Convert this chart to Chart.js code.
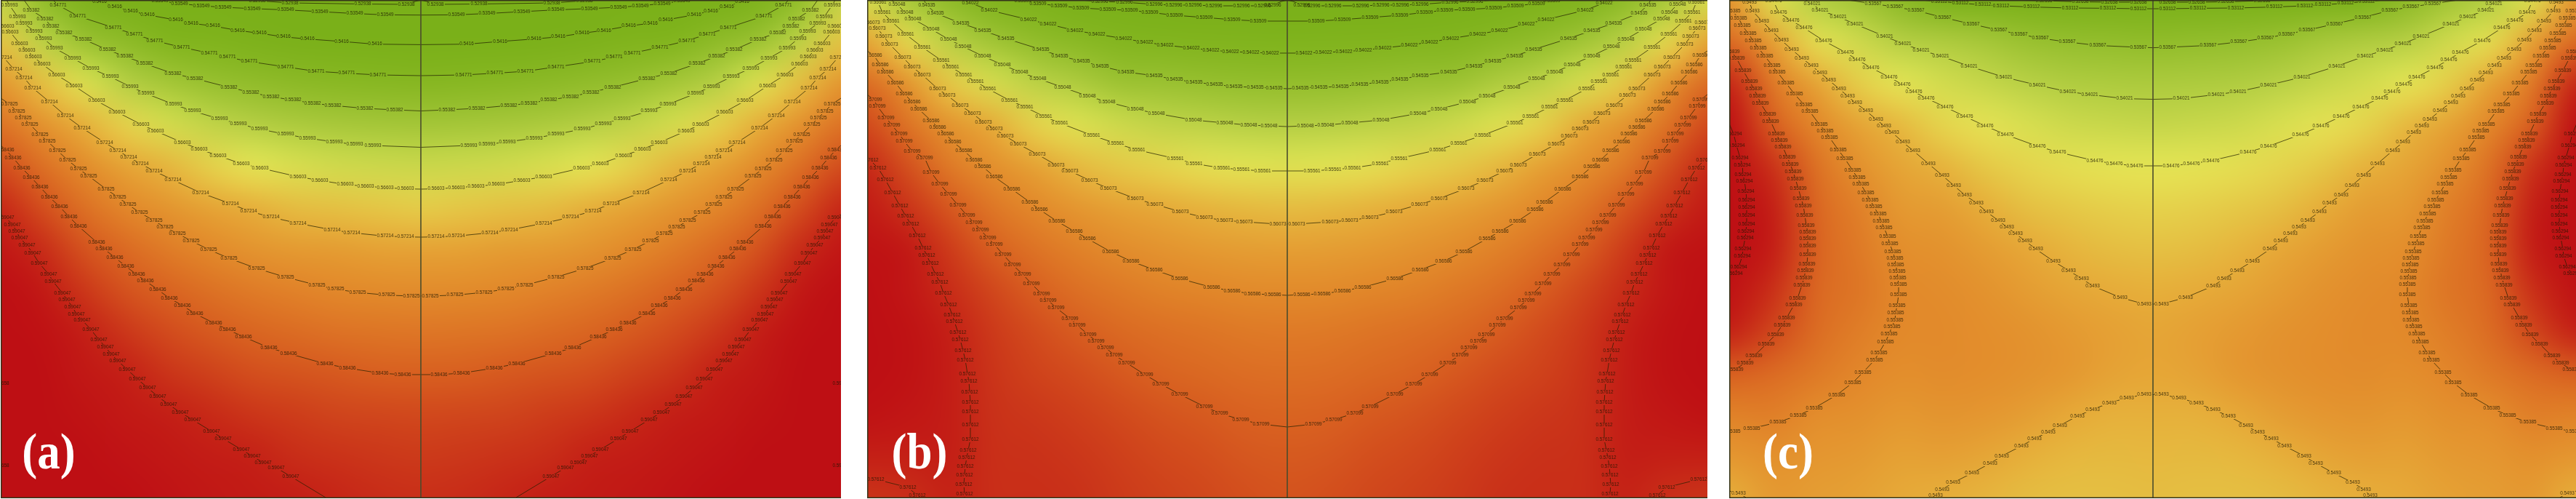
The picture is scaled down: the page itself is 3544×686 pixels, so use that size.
<!DOCTYPE html>
<html>
<head>
<meta charset="utf-8">
<script src="https://cdn.jsdelivr.net/npm/chart.js@4"></script>
<style>
html, body { margin: 0; padding: 0; background: #fff; overflow: hidden; }
canvas { position: absolute; top: 0; }
#panelA { left: 1px; }
#panelB { left: 1193px; }
#panelC { left: 2379px; }
</style>
</head>
<body>
<canvas id="panelA" width="1156" height="685"></canvas>
<canvas id="panelB" width="1156" height="685"></canvas>
<canvas id="panelC" width="1166" height="685"></canvas>
<script>
// contours: [distance from centre line, depth], left half, mirrored when drawn
const a52938 = [[0,0],[8,2],[20,6],[80,5.5],[180,4],[225,1]];
const a53549 = [[0,20.7],[49,20.4],[91,18.6],[139,16],[186,13.6],[232,11.8],[272,10],[302,7.9],[332,5],[359,1.4]];
const a5416 = [[0,61.4],[63,60.7],[109,57],[156,53.6],[189,50.7],[222,45.7],[252,41.8],[286,35.7],[316,32],[337,27.5],[376,20.4],[399,15],[421,9.6],[442,2]];
const a54771 = [[0,104],[59,103],[102,100.7],[144,98],[186,92],[236,84.6],[266,78.6],[291,73],[329,65],[366,56],[394,47],[423,38],[472,22],[499,7],[506,0]];
const a55382 = [[0,152.5],[36,151],[77,149],[121,145],[149,142],[176,137.5],[206,133],[234,127],[264,120],[311,108],[341,101],[380,87.5],[407,77.5],[431,68.6],[464,54],[491,45],[509,36],[517,26],[536,14],[546,0]];
const a55993 = [[0,202.5],[66,200],[91,198.6],[119,195],[156,190],[186,184.6],[222,177.5],[251,170],[277,163.6],[314,152.5],[340,143.6],[378,128.6],[400,119],[427,105.7],[454,94],[479,80],[504,66],[519,53],[532,43],[546,32],[555,23],[566,7],[570,0]];
const a56603 = [[0,260],[21,259.6],[49,258],[76,256],[104,253.6],[139,248],[169,243],[221,231],[247,225],[279,214],[305,205],[328,196],[365,180],[385,171],[418,154],[446,138.6],[477,118],[501,103],[521,88],[533,78],[542,69],[552,60],[565,44],[571,36],[578,33]];
const a57214 = [[0,326],[21,325.7],[49,324.6],[95,320],[122,316],[169,307],[206,298.6],[237,290],[262,280],[303,265],[341,247.5],[367,235],[386,225],[402,216],[417,207],[435,196],[466,176],[489,159],[511,140],[534,121],[546,107],[560,95],[574,79],[578,77]];
const a57825 = [[0,407],[13,407],[47,405.7],[87,402],[117,397.5],[143,392],[186,381],[226,369],[264,355],[292,343],[316,331],[335,321],[352,312.5],[367,303.6],[387,292],[403,281],[417,271],[433,260],[457,242],[471,232],[486,220],[500,207],[514,194],[524,185],[538,171],[547,162],[556,153],[566,143],[578,135]];
const a58436 = [[0,515],[25,515],[56,513],[101,506],[132,500],[182,486],[209,478],[244,463],[266,453],[285,444],[311,431],[328,420],[346,410],[362,398],[379,386],[391,377.5],[406,366],[421,354],[436,342],[446,333],[471,311],[484,298],[497,284],[511,271],[524,257],[536,244],[549,231],[561,217],[571,206],[578,200]];
const a59047 = [[131,684],[179,655],[199,643],[217,636],[232,627],[247,618],[272,603],[288,593],[314,577],[331,567],[347,556],[362,545],[376,533],[390,521],[404,508],[417,496],[426,487],[434,477],[443,467],[454,453],[466,440],[474,432],[479,422],[487,412],[493,403],[506,387],[512,377],[525,362],[534,348],[542,337],[552,327],[556,318],[562,309],[571,299],[578,295]];

const b52996 = [[0,0],[8,2],[20,7],[34,8],[63,8],[101,8],[129,7],[156,7],[183,6],[224,3],[258,2],[285,0]];
const b53509 = [[0,29],[40,29],[76,27],[114,24],[155,21],[189,17],[217,14],[247,13],[284,11],[314,8],[343,5],[364,1]];
const b54022 = [[0,73],[23,73],[50,72],[78,71],[105,69],[132,66],[168,62],[196,58],[225,53],[262,47],[292,42],[329,33],[356,27],[410,14],[436,4],[450,0]];
const b54535 = [[0,122],[18,121],[44,120],[73,119],[100,116],[128,113],[155,109],[183,104],[222,99],[257,91],[283,84],[313,77],[339,68],[387,53],[419,42],[449,32],[484,18],[496,7],[500,0]];
const b55048 = [[0,174],[25,173],[53,172],[86,169],[129,165],[180,156],[209,150],[248,140],[275,132],[309,120],[343,108],[368,99],[392,89],[419,77],[446,64],[466,54],[490,40],[515,26],[526,17],[537,6],[545,0]];
const b55561 = [[0,235],[34,235],[63,233],[90,231],[128,225],[154,218],[207,206],[236,197],[269,186],[313,169],[335,160],[361,147],[382,138],[412,122],[429,112],[445,103],[463,92],[476,83],[502,65],[525,47],[545,29],[557,17],[563,3],[568,0]];
const b56073 = [[0,308],[13,308],[59,305],[86,303],[114,299],[147,291],[182,281],[209,273],[246,259],[272,248],[299,235],[318,227],[344,212],[370,198],[388,187],[403,177],[418,168],[433,156],[450,145],[468,131],[481,122],[502,103],[516,92],[529,79],[547,61],[555,50],[564,39],[572,31],[578,28]];
const b56586 = [[0,406],[20,405],[48,404],[76,400],[104,395],[148,383],[183,371],[215,359],[243,346],[275,328],[293,318],[317,304],[341,288],[354,278],[379,260],[403,243],[419,229],[431,220],[445,207],[460,195],[470,184],[481,175],[490,166],[507,150],[516,140],[527,129],[539,114],[553,99],[560,89],[569,76],[578,70]];
const b57099 = [[0,587],[36,583],[64,577],[93,568],[114,559],[148,542],[174,528],[196,515],[221,499],[238,488],[250,478],[263,469],[274,460],[289,447],[299,438],[318,423],[329,413],[338,404],[352,390],[364,377],[378,364],[391,350],[403,336],[412,327],[422,316],[431,306],[441,296],[453,282],[466,267],[478,253],[490,237],[499,217],[516,208],[527,194],[534,184],[544,172],[552,162],[564,146],[569,137],[578,130]];
const b57612 = [[444,684],[444,679],[445,666],[444,653],[443,641],[441,629],[439,619],[436,604],[436,584],[436,566],[436,553],[437,539],[438,524],[440,514],[443,495],[446,482],[450,467],[453,457],[458,442],[461,433],[466,419],[473,403],[478,388],[484,377],[491,362],[496,351],[501,341],[509,324],[518,308],[525,297],[533,283],[543,265],[553,247],[563,231],[574,220],[578,218]];
const b57612low = [[504,684],[509,681],[522,670],[566,659],[578,656]];

const c52658 = [[0,0],[8,0.5],[20,3],[60,3],[100,2.5],[150,1],[210,0]];
const c53112 = [[0,12],[20,12],[62,11.4],[114,11],[167,9.6],[209,8],[234,6.6],[265,4.4],[294,2],[320,0]];
const c53567 = [[0,65.6],[20,65],[76,62.5],[118,57.7],[155,52.5],[184,47],[212,41.5],[250,33],[289,24],[326,14.4],[355,9.6],[385,5],[420,0]];
const c54021 = [[0,136.5],[39,135.6],[87,130],[117,126],[159,117],[205,106],[253,91],[292,77],[319,69],[344,60],[369,50],[410,33],[433,23],[458,14],[469,5],[480,0]];
const c54476 = [[0,228],[25,228],[53,225],[80,221],[131,209],[159,201],[203,185],[231,173],[259,160],[286,147],[312,135],[329,126],[345,116],[363,106],[388,93],[407,82],[423,72],[453,56],[480,38.5],[498,28],[515,17.5],[522,1.3],[523,0]];
const c5493 = [[0,418],[12,418],[45,409],[83,393],[98,383],[116,372],[137,359],[161,342.5],[176,331],[189,321.5],[201,312],[213,303],[229,291],[243,279],[259,268],[274,255],[290,241],[309,225],[330,207],[344,195.5],[359,182],[370,173],[381,164],[395,152],[410,141],[420,132],[432,122],[446,110],[458,100],[470,90],[483,80],[497,68],[511,55.5],[525,42],[538,29],[551,15],[555,3],[558,0]];
const c5493low = [[0,542.5],[12,542.5],[36,547],[60,554],[83,563],[104,572],[128,585],[144,594],[163,603],[181,613],[208,627],[224,637],[249,650.5],[275,663.6],[290,673],[299,681.5],[303,684]];
const c5493corner = [[583,675],[570,678],[560,684]];
const c55385 = [[583,593],[579,593],[552,589],[516,580.5],[488,571],[466,561],[435,543],[413,526],[399,512],[383,495],[377,485],[368,470],[363,459],[359,449],[355,440],[354,430],[352,420],[350,405.5],[350,391.5],[351,382],[352,373],[354,364],[355,355],[358,346],[362,335.5],[365,325],[370,313],[374,304],[378,294],[384,284],[389,275],[395,265],[402,253],[407,244],[413,234.5],[424,218],[433,206],[445,189],[451,180],[459,171],[472,153.5],[480,144],[493,129.5],[505,114],[517,99],[524,90],[534,77],[543,66],[550,56],[557,46],[565,35],[570,25],[579,15],[583,12]];
const c55839 = [[583,512],[575,508],[561,499],[549,489.5],[532,473],[519,460],[510,447],[504,437],[494,419.5],[489,410],[483,392],[480,382],[478,372],[476,363],[475,350],[475,338],[475,328],[475,319],[477,310],[479,296],[481,283],[484,273],[488,259],[492,246],[495,236],[499,226],[503,216.5],[509,202.5],[514,193],[518,184],[526,167],[530,157.5],[540,142],[544,132],[549,122.5],[555,112],[564,97],[573,80],[580,71],[583,68]];
const c56294 = [[583,380],[576,376],[570,367],[565,352],[564,342.5],[561,327],[560,318],[559,308],[559,296],[559,285],[559,275],[560,263],[562,249],[564,240],[565,227],[568,217],[573,200],[577,184],[583,170]];

const contoursA = [['0.52938',a52938],['0.53549',a53549],['0.5416',a5416],['0.54771',a54771],['0.55382',a55382],['0.55993',a55993],['0.56603',a56603],['0.57214',a57214],['0.57825',a57825],['0.58436',a58436],['0.59047',a59047]];
const contoursB = [['0.52996',b52996],['0.53509',b53509],['0.54022',b54022],['0.54535',b54535],['0.55048',b55048],['0.55561',b55561],['0.56073',b56073],['0.56586',b56586],['0.57099',b57099],['0.57612',b57612],['0.57612',b57612low]];
const contoursC = [['0.52658',c52658],['0.53112',c53112],['0.53567',c53567],['0.54021',c54021],['0.54476',c54476],['0.5493',c5493],['0.5493',c5493low],['0.5493',c5493corner],['0.55385',c55385],['0.55839',c55839],['0.56294',c56294]];

// labels of a contour that only just touches the panel edge
const edgeLabelsA = [['0.59658',578,527],['0.59658',578,640]];

// sampled field, one column per heatDx, one value per heatDepth
const heatDx = [0,58,116,174,232,290,348,406,464,522,580];
const heatDepth = [0,57,114,171,228,285,342,399,456,513,570,627,684];

const heatA = [
 [.5250,.5410,.5490,.5562,.5625,.5684,.5735,.5776,.5810,.5843,.5866,.5880,.5890],
 [.5250,.5412,.5492,.5565,.5628,.5690,.5738,.5778,.5812,.5844,.5868,.5883,.5893],
 [.5260,.5418,.5497,.5570,.5634,.5697,.5747,.5783,.5816,.5850,.5870,.5888,.5900],
 [.5280,.5423,.5506,.5579,.5645,.5702,.5750,.5792,.5825,.5855,.5878,.5892,.5915],
 [.5300,.5437,.5522,.5597,.5660,.5717,.5762,.5802,.5835,.5860,.5885,.5905,.5922],
 [.5320,.5458,.5540,.5613,.5680,.5734,.5782,.5817,.5849,.5873,.5896,.5918,.5935],
 [.5350,.5470,.5564,.5639,.5709,.5760,.5801,.5838,.5863,.5886,.5911,.5935,.5950],
 [.5395,.5510,.5598,.5678,.5734,.5785,.5828,.5856,.5883,.5907,.5930,.5950,.5965],
 [.5450,.5545,.5650,.5717,.5778,.5819,.5856,.5884,.5912,.5935,.5953,.5965,.5973],
 [.5520,.5610,.5700,.5767,.5820,.5860,.5895,.5935,.5958,.5970,.5978,.5982,.5985],
 [.5620,.5695,.5760,.5815,.5862,.5900,.5940,.5966,.5975,.5980,.5985,.5988,.5990]
];
const heatB = [
 [.5255,.5385,.5445,.5502,.5551,.5591,.5625,.5655,.5676,.5690,.5704,.5715,.5722],
 [.5260,.5388,.5447,.5505,.5553,.5594,.5627,.5656,.5678,.5692,.5707,.5718,.5727],
 [.5270,.5394,.5454,.5512,.5560,.5600,.5633,.5662,.5684,.5698,.5715,.5727,.5734],
 [.5290,.5398,.5461,.5517,.5570,.5608,.5642,.5667,.5690,.5705,.5722,.5733,.5740],
 [.5315,.5405,.5463,.5531,.5580,.5620,.5653,.5678,.5698,.5717,.5732,.5741,.5746],
 [.5335,.5421,.5492,.5548,.5595,.5638,.5668,.5690,.5713,.5730,.5741,.5750,.5755],
 [.5375,.5442,.5512,.5571,.5621,.5659,.5685,.5711,.5730,.5739,.5749,.5755,.5758],
 [.5390,.5470,.5540,.5607,.5648,.5680,.5710,.5735,.5747,.5752,.5755,.5757,.5758],
 [.5430,.5508,.5580,.5640,.5675,.5717,.5745,.5760,.5775,.5778,.5778,.5776,.5770],
 [.5480,.5565,.5640,.5684,.5724,.5753,.5790,.5795,.5805,.5805,.5795,.5775,.5757],
 [.5540,.5618,.5696,.5733,.5765,.5785,.5805,.5815,.5818,.5815,.5805,.5775,.5752]
];
const heatC = [
 [.5265,.5350,.5388,.5416,.5448,.5462,.5476,.5489,.5500,.5498,.5488,.5482,.5478],
 [.5267,.5352,.5390,.5419,.5449,.5464,.5478,.5492,.5506,.5504,.5488,.5481,.5477],
 [.5270,.5355,.5394,.5424,.5453,.5470,.5485,.5500,.5515,.5518,.5495,.5483,.5477],
 [.5285,.5362,.5404,.5436,.5460,.5477,.5497,.5512,.5525,.5525,.5510,.5489,.5479],
 [.5298,.5380,.5417,.5450,.5470,.5491,.5512,.5525,.5530,.5530,.5520,.5500,.5485],
 [.5315,.5392,.5430,.5460,.5487,.5510,.5525,.5533,.5536,.5533,.5522,.5507,.5490],
 [.5345,.5400,.5447,.5482,.5500,.5515,.5530,.5538,.5537,.5530,.5518,.5505,.5494],
 [.5372,.5427,.5465,.5502,.5528,.5548,.5555,.5559,.5550,.5540,.5528,.5515,.5505],
 [.5398,.5453,.5503,.5539,.5564,.5576,.5581,.5575,.5569,.5555,.5532,.5520,.5510],
 [.5440,.5507,.5553,.5584,.5599,.5608,.5610,.5600,.5592,.5571,.5549,.5528,.5515],
 [.5520,.5572,.5603,.5630,.5650,.5680,.5680,.5625,.5605,.5584,.5545,.5520,.5490]
];

// value at which each colour of the ramp is reached
const rampA = [.5416,.5477,.5538,.5599,.5660,.5721,.5783,.5844,.5905,.5966];
const rampB = [.5351,.5402,.5454,.5505,.5556,.5607,.5659,.5710,.5772,.5812];
const rampC = [.5311,.5334,.5357,.5402,.5448,.5493,.5538,.5584,.5605,.5629];
const rampColors = [[122,176,25],[130,180,30],[150,191,46],[182,207,68],[228,228,84],[230,170,56],[226,136,42],[216,95,32],[196,32,22],[190,15,20]];

function colorFor(v, ramp) {
    if (v <= ramp[0]) return rampColors[0];
    for (let i = 1; i < ramp.length; i++) {
        if (v <= ramp[i]) {
            const t = (v - ramp[i - 1]) / (ramp[i] - ramp[i - 1]);
            return rampColors[i].map((c, k) => rampColors[i - 1][k] + (c - rampColors[i - 1][k]) * t);
        }
    }
    return rampColors[rampColors.length - 1];
}

// mirrored field as a tiny image, the browser smooths it when it is scaled up
function heatImage(heat, ramp) {
    const cols = heat.length * 2 - 1, rows = heatDepth.length;
    const c = document.createElement('canvas');
    c.width = cols; c.height = rows;
    const g = c.getContext('2d');
    const img = g.createImageData(cols, rows);
    for (let i = 0; i < cols; i++) {
        const col = heat[Math.abs(i - heat.length + 1)];
        for (let j = 0; j < rows; j++) {
            const rgb = colorFor(col[j], ramp);
            const p = (j * cols + i) * 4;
            img.data[p] = rgb[0]; img.data[p + 1] = rgb[1]; img.data[p + 2] = rgb[2]; img.data[p + 3] = 255;
        }
    }
    g.putImageData(img, 0, 0);
    return c;
}

// full size copy of the field, placed with the chart scales, kept for repainting under labels
function heatLayer(chart) {
    const o = chart.options.plugins.panel;
    if (chart.$heatLayer) return chart.$heatLayer;
    const x = chart.scales.x, y = chart.scales.y;
    const stepX = heatDx[1] - heatDx[0], stepY = heatDepth[1] - heatDepth[0];
    const left = x.getPixelForValue(-heatDx[heatDx.length - 1] - stepX / 2);
    const right = x.getPixelForValue(heatDx[heatDx.length - 1] + stepX / 2);
    const top = y.getPixelForValue(heatDepth[0] - stepY / 2);
    const bottom = y.getPixelForValue(heatDepth[heatDepth.length - 1] + stepY / 2);
    const layer = document.createElement('canvas');
    layer.width = chart.width; layer.height = chart.height;
    const g = layer.getContext('2d');
    g.imageSmoothingEnabled = true;
    g.imageSmoothingQuality = 'high';
    g.filter = 'blur(9px)';
    g.drawImage(o.image, left, top, right - left, bottom - top);
    chart.$heatLayer = layer;
    return layer;
}

const panelPlugin = {
    id: 'panel',
    beforeDatasetsDraw(chart) {
        chart.ctx.drawImage(heatLayer(chart), 0, 0);
    },
    // datasets are painted last to first, so index 0 (centre line) stays on top of the labels
    beforeDatasetDraw(chart, args) {
        if (args.index !== 0) return;
        const o = chart.options.plugins.panel;
        const x = chart.scales.x, y = chart.scales.y, ctx = chart.ctx;
        const layer = heatLayer(chart);
        ctx.save();
        ctx.font = '6.4px "Liberation Sans", Arial, sans-serif';
        ctx.textAlign = 'center';
        ctx.textBaseline = 'middle';
        const spots = [];
        chart.data.datasets.forEach(ds => {
            if (!ds.levelText) return;
            ds.data.forEach(p => {
                if (Math.abs(p.x) < 10 || p.y < 1 || Math.abs(p.x) >= x.max - 2 || p.y > 682) return;
                spots.push([ds.levelText, x.getPixelForValue(p.x), y.getPixelForValue(p.y)]);
            });
        });
        o.edgeLabels.forEach(l => {
            spots.push([l[0], x.getPixelForValue(-l[1]), y.getPixelForValue(l[2])]);
            spots.push([l[0], x.getPixelForValue(l[1]), y.getPixelForValue(l[2])]);
        });
        // the line breaks under a label: repaint the field there first
        spots.forEach(s => {
            const w = Math.ceil(ctx.measureText(s[0]).width) + 1;
            const sx = Math.max(0, Math.round(s[1] - w / 2)), sy = Math.max(0, Math.round(s[2] - 3.5));
            ctx.drawImage(layer, sx, sy, w, 7, sx, sy, w, 7);
        });
        ctx.fillStyle = 'rgba(28,22,0,0.8)';
        spots.forEach(s => ctx.fillText(s[0], s[1], s[2]));
        ctx.restore();
    },
    afterDatasetsDraw(chart) {
        const o = chart.options.plugins.panel;
        const ctx = chart.ctx, area = chart.chartArea;
        ctx.save();
        ctx.strokeStyle = '#34341a';
        ctx.lineWidth = 2;
        ctx.beginPath();
        ctx.moveTo(area.left + 0.5, area.bottom - 0.5);
        ctx.lineTo(area.left + 0.5, area.top + 0.5);
        ctx.lineTo(area.right, area.top + 0.5);
        ctx.moveTo(area.left, area.bottom - 0.5);
        ctx.lineTo(area.right, area.bottom - 0.5);
        ctx.stroke();
        // the panel letter is taller and heavier than the plain serif
        ctx.fillStyle = '#fff';
        ctx.font = 'bold 63px "Liberation Serif", "Times New Roman", serif';
        ctx.textAlign = 'center';
        ctx.textBaseline = 'alphabetic';
        ctx.translate(chart.scales.x.getPixelForValue(-o.tagDx), chart.scales.y.getPixelForValue(644));
        ctx.scale(1, 1.12);
        ctx.fillText(o.tag, 0, 0);
        ctx.restore();
    }
};

function makePanel(id, contours, halfWidth, heat, ramp, tag, tagDx, edgeLabels) {
    const datasets = [{
        data: [{ x: 0, y: 0 }, { x: 0, y: 685 }],
        borderColor: '#4a4c2c',
        borderWidth: 1.6
    }];
    contours.forEach(c => {
        [-1, 1].forEach(side => {
            datasets.push({
                levelText: c[0],
                data: c[1].map(p => ({ x: p[0] * side, y: p[1] })),
                borderColor: 'rgba(34,32,0,0.72)',
                borderWidth: 1
            });
        });
    });
    new Chart(document.getElementById(id), {
        type: 'scatter',
        data: { datasets: datasets },
        options: {
            responsive: false,
            animation: false,
            devicePixelRatio: 1,
            showLine: true,
            layout: { padding: 0 },
            elements: { point: { radius: 0 }, line: { tension: 0 } },
            scales: {
                x: { type: 'linear', display: false, min: -halfWidth, max: halfWidth },
                y: { type: 'linear', display: false, min: 0, max: 685, reverse: true }
            },
            plugins: {
                legend: { display: false },
                tooltip: { enabled: false },
                panel: { image: heatImage(heat, ramp), tag: tag, tagDx: tagDx, edgeLabels: edgeLabels }
            }
        },
        plugins: [panelPlugin]
    });
}

makePanel('panelA', contoursA, 578, heatA, rampA, '(a)', 512, edgeLabelsA);
makePanel('panelB', contoursB, 578, heatB, rampB, '(b)', 506, []);
makePanel('panelC', contoursC, 583, heatC, rampC, '(c)', 502, []);
</script>
</body>
</html>
